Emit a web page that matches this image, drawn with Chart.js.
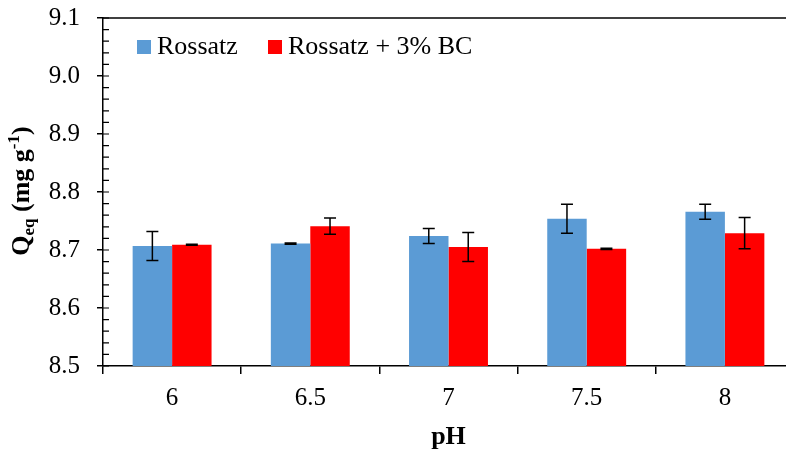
<!DOCTYPE html>
<html>
<head>
<meta charset="utf-8">
<script src="https://cdn.jsdelivr.net/npm/chart.js@4.4.1/dist/chart.umd.min.js"></script>
<style>
  html, body { margin: 0; padding: 0; background: #fff; overflow: hidden; }
  #wrap { width: 786px; height: 457px; overflow: hidden; position: relative; }
  canvas { display: block; }
</style>
</head>
<body>
<div id="wrap"><canvas id="c" width="800" height="457"></canvas></div>
<script>
// pH categories
const phLabels = ['6', '6.5', '7', '7.5', '8'];
// Equilibrium adsorption capacity, mg g-1
const rossatz = [8.707, 8.711, 8.724, 8.754, 8.766];
const rossatzErr = [0.025, 0.001, 0.013, 0.025, 0.013];
const rossatzBC = [8.709, 8.741, 8.705, 8.702, 8.729];
const rossatzBCErr = [0.001, 0.014, 0.025, 0.001, 0.027];
// value axis range
const yMin = 8.5;
const yMax = 9.1;
const yStep = 0.1;
const yMinorStep = 0.02;
const seriesNames = ['Rossatz', 'Rossatz + 3% BC'];
const seriesColors = ['#5B9BD5', '#FF0000'];
const errorSets = [rossatzErr, rossatzBCErr];

const SERIF = "'Liberation Serif', 'Times New Roman', serif";

const errorBars = {
  id: 'errorBars',
  afterDatasetsDraw(chart) {
    const ctx = chart.ctx;
    const y = chart.scales.y;
    ctx.save();
    ctx.strokeStyle = '#000';
    ctx.lineWidth = 1.5;
    chart.data.datasets.forEach((ds, i) => {
      const meta = chart.getDatasetMeta(i);
      meta.data.forEach((bar, j) => {
        const v = ds.data[j], e = errorSets[i][j];
        const top = y.getPixelForValue(v + e);
        const bot = y.getPixelForValue(v - e);
        const x = bar.x;
        ctx.beginPath();
        ctx.moveTo(x, top); ctx.lineTo(x, bot);
        ctx.moveTo(x - 6, top); ctx.lineTo(x + 6, top);
        ctx.moveTo(x - 6, bot); ctx.lineTo(x + 6, bot);
        ctx.stroke();
      });
    });
    ctx.restore();
  }
};

const decorations = {
  id: 'decorations',
  afterDraw(chart) {
    const ctx = chart.ctx;
    const a = chart.chartArea;
    const y = chart.scales.y;
    ctx.save();
    ctx.strokeStyle = '#000';
    ctx.lineWidth = 1.5;
    // top frame line
    ctx.beginPath();
    ctx.moveTo(a.left, a.top);
    ctx.lineTo(a.right, a.top);
    ctx.stroke();
    // inner minor/major ticks on value axis
    ctx.lineWidth = 1.2;
    ctx.beginPath();
    const n = Math.round((yMax - yMin) / yMinorStep);
    for (let k = 0; k <= n; k++) {
      const py = y.getPixelForValue(yMin + k * yMinorStep);
      ctx.moveTo(a.left, py);
      ctx.lineTo(a.left + 6, py);
    }
    ctx.stroke();

    // legend
    ctx.textBaseline = 'alphabetic';
    ctx.textAlign = 'left';
    ctx.font = '26px ' + SERIF;
    const lx = [137, 268];
    seriesNames.forEach((name, i) => {
      ctx.fillStyle = seriesColors[i];
      ctx.fillRect(lx[i], 40, 14, 14);
      ctx.fillStyle = '#000';
      ctx.fillText(name, lx[i] + 20, 54);
    });

    // x axis title
    ctx.font = 'bold 26px ' + SERIF;
    ctx.textAlign = 'center';
    ctx.fillText('pH', (a.left + a.right) / 2, 444);

    // y axis title with subscript and superscript
    const parts = [
      { t: 'Q', size: 26, dy: 0 },
      { t: 'eq', size: 17, dy: 5 },
      { t: ' (mg g', size: 26, dy: 0 },
      { t: '-1', size: 17, dy: -10 },
      { t: ')', size: 26, dy: 0 }
    ];
    let total = 0;
    parts.forEach(p => {
      ctx.font = 'bold ' + p.size + 'px ' + SERIF;
      p.w = ctx.measureText(p.t).width;
      total += p.w;
    });
    ctx.translate(29, 191);
    ctx.rotate(-Math.PI / 2);
    ctx.textAlign = 'left';
    let cx = -total / 2;
    parts.forEach(p => {
      ctx.font = 'bold ' + p.size + 'px ' + SERIF;
      ctx.fillText(p.t, cx, p.dy);
      cx += p.w;
    });
    ctx.restore();
  }
};

new Chart(document.getElementById('c'), {
  type: 'bar',
  data: {
    labels: phLabels,
    datasets: [
      { label: seriesNames[0], data: rossatz, backgroundColor: seriesColors[0] },
      { label: seriesNames[1], data: rossatzBC, backgroundColor: seriesColors[1] }
    ]
  },
  options: {
    responsive: false,
    animation: false,
    devicePixelRatio: 1,
    categoryPercentage: 0.571,
    barPercentage: 1.0,
    layout: { padding: { left: 0, right: 6, top: 18, bottom: 0 } },
    plugins: { legend: { display: false }, tooltip: { enabled: false } },
    scales: {
      x: {
        offset: true,
        grid: { display: true, offset: true, drawOnChartArea: false, drawTicks: true, tickLength: 8, color: '#000', lineWidth: 1.5 },
        border: { display: true, color: '#000', width: 1.5 },
        ticks: { font: { family: SERIF, size: 25 }, color: '#000', padding: 9, maxRotation: 0 },
        afterFit(s) { s.height = 91; s.paddingLeft = 0; s.paddingRight = 0; }
      },
      y: {
        min: yMin,
        max: yMax,
        grid: { display: true, drawOnChartArea: false, drawTicks: true, tickLength: 6, color: '#000', lineWidth: 1.5 },
        border: { display: true, color: '#000', width: 1.5 },
        ticks: { stepSize: yStep, font: { family: SERIF, size: 25 }, color: '#000', padding: 17,
                 callback: v => Number(v).toFixed(1) },
        afterFit(s) { s.width = 103; s.paddingTop = 0; s.paddingBottom = 0; }
      }
    }
  },
  plugins: [errorBars, decorations]
});
</script>
</body>
</html>
